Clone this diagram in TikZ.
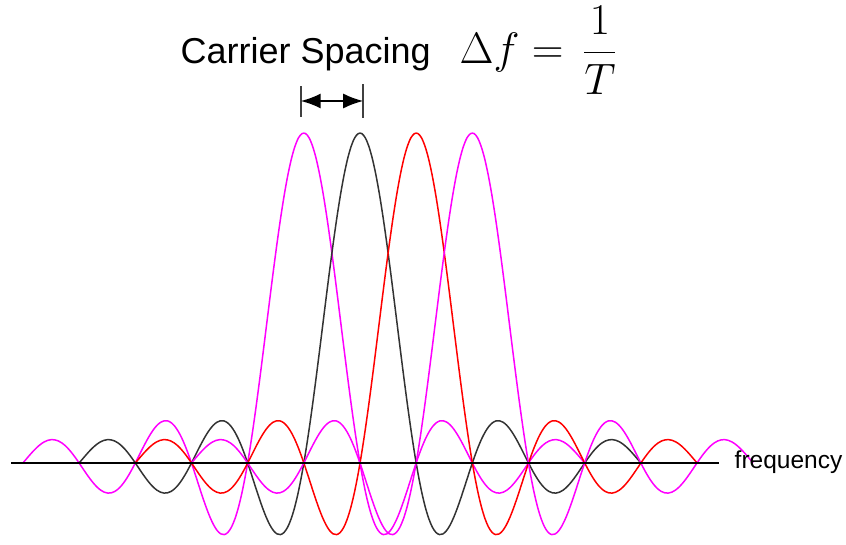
\RequirePackage{fix-cm}
\documentclass[tikz,border=0pt]{standalone}
\usepackage{amsmath}
\usepackage{fontspec}
\newfontfamily\arialfont{Liberation Sans}
\usetikzlibrary{arrows.meta,positioning}
\definecolor{subpink}{RGB}{255,0,255}
\definecolor{subred}{RGB}{255,0,0}

\begin{document}
\begin{tikzpicture}[x=1pt,y=-1pt,
  carrier/.style={line width=1.5pt,smooth},
  tickbar/.style={line width=2.4pt,black!75},
  lbl/.style={inner sep=0pt,anchor=base west}]
\useasboundingbox (0,0) rectangle (846,545);
% sub-carriers, sinc shaped, spacing 1/T
\foreach \c/\col in {303.8/subpink,360/black!80,416.2/subred,472.3/subpink}
  \draw[carrier,color=\col] plot[domain=-5:5,samples=160] ({\c+56.17*\x},{463-330*sin(180*\x)/(pi*\x)});
\coordinate (fL) at (11,463);
\coordinate (fR) at (719,463);
\draw[line width=1.5pt] (fL) -- (fR);
\node[lbl,font={\arialfont\fontsize{24.5}{28}\selectfont}] (freq) at (734.5,468.3) {frequency};
% spacing marker
\coordinate (tk1) at (300.7,101);
\coordinate (tk2) at (363.2,101);
\draw[tickbar] ([yshift=-16pt]tk1) -- ([yshift=15pt]tk1);
\draw[tickbar] ([yshift=-17pt]tk2) -- ([yshift=17pt]tk2);
\draw[{Latex[length=20pt,width=15pt]}-{Latex[length=20pt,width=15pt]},line width=1.8pt] (tk1) -- (tk2);
\node[lbl,font={\arialfont\fontsize{36}{40}\selectfont}] (spc) at (180.5,63.3) {Carrier Spacing};
\node[lbl,font={\fontsize{44}{50}\selectfont}] (df) at (459.5,64) {$\Delta f = \,\dfrac{1}{T}$};
\end{tikzpicture}
\end{document}
